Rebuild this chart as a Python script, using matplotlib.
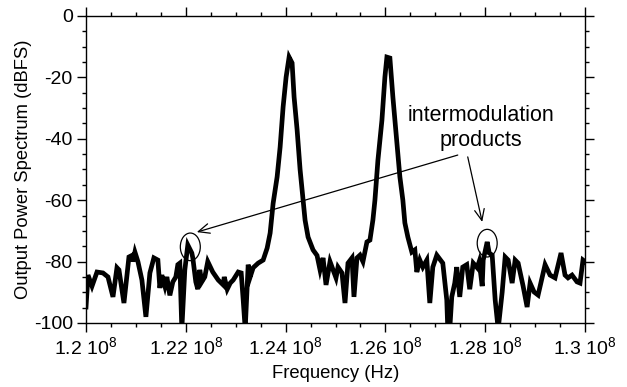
import matplotlib
matplotlib.use("Agg")
import matplotlib.pyplot as plt
from matplotlib.patches import Ellipse
from matplotlib.ticker import MultipleLocator
import numpy as np

plt.rcParams['font.family'] = ['Liberation Sans', 'DejaVu Sans']
plt.rcParams['mathtext.fontset'] = 'custom'
plt.rcParams['mathtext.rm'] = 'Liberation Sans'
plt.rcParams['mathtext.it'] = 'Liberation Sans:italic'
plt.rcParams['axes.unicode_minus'] = False

# two-tone spectrum, frequency in MHz and level in dBFS
freq_mhz = [
    120.00, 120.04, 120.12, 120.22, 120.34, 120.44, 120.54, 120.62, 120.66, 120.76,
    120.86, 120.92, 120.94, 120.98, 121.04, 121.12, 121.20, 121.28, 121.36, 121.44,
    121.48, 121.52, 121.58, 121.62, 121.68, 121.74, 121.80, 121.84, 121.88, 121.92,
    121.98, 122.04, 122.12, 122.14, 122.20, 122.24, 122.28, 122.32, 122.38, 122.44,
    122.54, 122.65, 122.75, 122.77, 122.83, 122.89, 122.95, 123.05, 123.11, 123.15,
    123.19, 123.25, 123.29, 123.35, 123.45, 123.55, 123.63, 123.69, 123.75, 123.83,
    123.89, 123.95, 124.01, 124.07, 124.13, 124.17, 124.23, 124.29, 124.35, 124.39,
    124.45, 124.55, 124.63, 124.69, 124.75, 124.81, 124.89, 124.95, 125.01, 125.05,
    125.13, 125.19, 125.25, 125.33, 125.37, 125.43, 125.49, 125.55, 125.63, 125.69,
    125.75, 125.79, 125.85, 125.93, 125.99, 126.03, 126.09, 126.15, 126.23, 126.29,
    126.35, 126.39, 126.45, 126.53, 126.59, 126.63, 126.69, 126.75, 126.83, 126.89,
    126.95, 127.03, 127.15, 127.23, 127.25, 127.29, 127.33, 127.39, 127.43, 127.49,
    127.55, 127.63, 127.69, 127.76, 127.84, 127.88, 127.94, 127.96, 128.04, 128.08,
    128.14, 128.20, 128.26, 128.34, 128.40, 128.46, 128.54, 128.60, 128.66, 128.76,
    128.84, 128.90, 128.98, 129.06, 129.20, 129.30, 129.40, 129.52, 129.60, 129.66,
    129.74, 129.84, 129.90, 129.96, 130.00,
]
level_dbfs = [
    -94.8, -84.4, -88.0, -83.4, -83.7, -85.0, -91.5, -82.0, -82.7, -93.5,
    -78.5, -78.0, -80.0, -76.9, -80.0, -86.0, -98.0, -83.7, -78.8, -79.5,
    -88.6, -84.4, -88.0, -85.0, -91.0, -86.6, -85.0, -81.0, -80.5, -102.0,
    -82.7, -74.6, -77.2, -78.8, -86.6, -89.0, -82.7, -86.6, -85.0, -80.0,
    -83.4, -86.0, -87.6, -85.0, -89.0, -87.0, -86.0, -83.4, -83.7, -92.5,
    -102.0, -81.0, -85.0, -82.0, -80.5, -79.5, -75.6, -70.7, -61.0, -52.4,
    -42.7, -29.6, -19.9, -13.4, -15.3, -26.4, -37.0, -50.0, -60.0, -66.5,
    -72.0, -76.2, -78.0, -82.7, -78.8, -87.6, -80.0, -82.7, -85.3, -81.8,
    -83.7, -93.5, -80.5, -78.8, -91.5, -78.8, -77.9, -80.0, -73.6, -73.0,
    -66.4, -60.0, -47.0, -34.0, -19.9, -13.4, -13.7, -26.4, -41.4, -52.4,
    -60.0, -67.4, -72.0, -76.9, -76.2, -83.4, -79.5, -81.8, -79.5, -93.5,
    -81.8, -77.9, -80.5, -92.5, -102.0, -102.0, -91.5, -87.0, -81.8, -91.5,
    -81.8, -81.0, -89.0, -80.5, -82.0, -80.0, -88.0, -79.5, -73.6, -77.2,
    -77.9, -92.5, -102.0, -90.0, -78.5, -79.5, -87.0, -79.5, -80.5, -88.0,
    -94.8, -87.0, -89.9, -90.9, -81.0, -84.4, -85.3, -77.2, -84.4, -85.3,
    -84.4, -86.6, -87.0, -79.5, -80.0,
]

x_ticks = [1.20e8, 1.22e8, 1.24e8, 1.26e8, 1.28e8, 1.30e8]
x_ticklabels = ["1.2 10$^8$", "1.22 10$^8$", "1.24 10$^8$",
                "1.26 10$^8$", "1.28 10$^8$", "1.3 10$^8$"]
y_ticks = [0, -20, -40, -60, -80, -100]

# intermodulation products (2f1-f2, 2f2-f1), MHz / dBFS
imd_freq = [122.09, 128.04]
imd_level = [-75.2, -74.0]

fig = plt.figure(figsize=(6.27, 3.87), dpi=100)
ax = fig.add_axes([0.1372, 0.1654, 0.7958, 0.7933])

f_hz = np.array(freq_mhz) * 1e6
ax.plot(f_hz, level_dbfs, color='black', lw=3.4, solid_joinstyle='miter')

ax.set_xlim(1.2e8, 1.3e8)
ax.set_ylim(-100, 0)
ax.set_xticks(x_ticks)
ax.set_xticklabels(x_ticklabels)
ax.set_yticks(y_ticks)
ax.xaxis.set_minor_locator(MultipleLocator(0.5e6))
ax.yaxis.set_minor_locator(MultipleLocator(5))

ax.tick_params(which='both', direction='out', top=True, right=True,
               labeltop=False, labelright=False, width=1, labelsize=14)
ax.tick_params(which='major', length=6.5, pad=3)
ax.tick_params(which='minor', length=3.2)
for s in ax.spines.values():
    s.set_linewidth(1)

ax.set_xlabel("Frequency (Hz)", fontsize=13.3, labelpad=5)
ax.set_ylabel("Output Power Spectrum (dBFS)", fontsize=13.2, labelpad=1)

for fm, lv in zip(imd_freq, imd_level):
    ax.add_patch(Ellipse((fm * 1e6, lv), 0.40e6, 9.0, fill=False,
                         edgecolor='black', lw=0.9))

ax.text(127.92e6, -36.5, "intermodulation\nproducts", ha='center', va='center',
        fontsize=15.5, linespacing=1.25)
arrow = dict(arrowstyle='->,head_length=0.8,head_width=0.35', color='black',
             lw=0.9, shrinkA=0, shrinkB=0)
ax.annotate("", xy=(122.22e6, -70.4), xytext=(127.45e6, -45.3), arrowprops=arrow)
ax.annotate("", xy=(127.94e6, -67.1), xytext=(127.65e6, -45.9), arrowprops=arrow)

fig.savefig("out.png", dpi=100)
